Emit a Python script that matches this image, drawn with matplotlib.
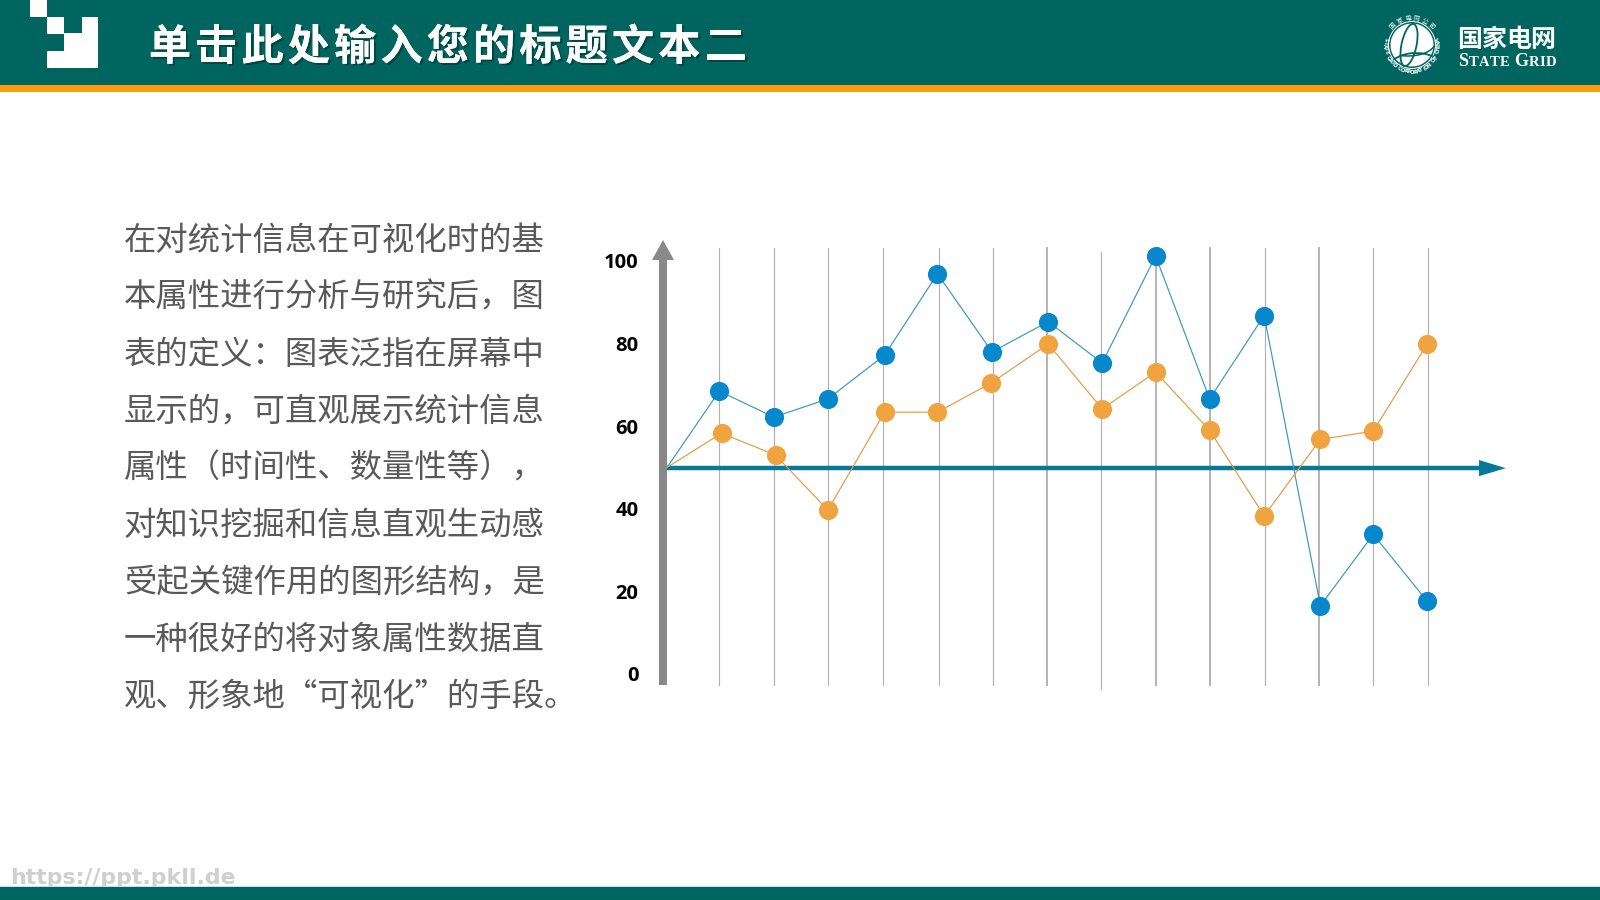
import numpy as np
import matplotlib
matplotlib.use('Agg')
import matplotlib.pyplot as plt
import matplotlib.patheffects as pe
from matplotlib.patches import Rectangle, Polygon, Circle, Ellipse, Arc

plt.rcParams['font.family'] = ['Noto Sans CJK SC', 'DejaVu Sans']

# chart data
y_ticks = [0, 20, 40, 60, 80, 100]
grid_x = [1.0, 2.01, 3.0, 4.01, 5.02, 6.01, 7.01, 8.0, 9.0, 10.0, 11.0, 12.0, 12.99, 14.0]
grid_w = [1.2, 1.2, 1.2, 1.2, 1.2, 1.2, 1.9, 1.2, 1.9, 1.9, 1.2, 1.9, 1.2, 1.2]
blue_x = [0.04, 1.0, 2.0, 2.99, 4.03, 5.0, 6.0, 7.03, 8.02, 9.0, 9.99, 10.99, 12.02, 12.99, 13.98]
blue_y = [50, 68.5, 62.2, 66.6, 77.2, 96.9, 78, 85.3, 75.3, 101.2, 66.6, 86.8, 16.5, 33.8, 17.6]
orange_x = [0.04, 1.04, 2.03, 2.99, 4.03, 5.0, 5.99, 7.03, 8.02, 9.0, 9.99, 10.99, 12.02, 12.99, 13.98]
orange_y = [50, 58.3, 53, 39.7, 63.4, 63.4, 70.5, 79.9, 64.2, 73.1, 59, 38.3, 56.8, 58.8, 79.9]

title = '单击此处输入您的标题文本二'
body_lines = [
    '在对统计信息在可视化时的基',
    '本属性进行分析与研究后，图',
    '表的定义：图表泛指在屏幕中',
    '显示的，可直观展示统计信息',
    '属性（时间性、数量性等），',
    '对知识挖掘和信息直观生动感',
    '受起关键作用的图形结构，是',
    '一种很好的将对象属性数据直',
    '观、形象地“可视化”的手段。',
]

TEAL = '#00645F'
W, H = 1600, 900
fig = plt.figure(figsize=(16, 9), dpi=100, facecolor='white')

# page layer, in pixels
bg = fig.add_axes([0, 0, 1, 1])
bg.set_xlim(0, W)
bg.set_ylim(H, 0)
bg.axis('off')

bg.add_patch(Rectangle((0, 0), W, 85, fc=TEAL, ec='none'))
bg.add_patch(Rectangle((0, 85), W, 7, fc='#FF9B0E', ec='none'))

# corner block
for x, y, w, h in [(30, 0, 17, 17), (47, 17, 17, 17), (82, 17, 16, 17),
                   (64, 33, 34, 18), (47, 51, 51, 17)]:
    bg.add_patch(Rectangle((x, y), w, h, fc='white', ec='none'))

# header title, spaced by hand
shadow = [pe.withSimplePatchShadow(offset=(1.5, -1.5), shadow_rgbFace='#003330', alpha=0.6), pe.Normal()]
for i, ch in enumerate(title):
    bg.text(170 + i * 46.3, 48, ch, color='white', fontsize=30.5, fontweight='bold',
            ha='center', va='center', path_effects=shadow)

# logo globe
cx, cy = 1412, 45
bg.add_patch(Circle((cx, cy), 21.5, fc='white', ec='none'))
bg.add_patch(Circle((cx, cy), 23.5, fc='none', ec='white', lw=0.7))
bg.add_patch(Ellipse((cx - 3, cy), 15, 43, angle=12, fc='none', ec=TEAL, lw=1.3))
bg.add_patch(Arc((cx + 4, cy + 28), 60, 40, theta1=190, theta2=330, ec=TEAL, lw=1.3))
bg.add_patch(Arc((cx - 4, cy - 4), 56, 30, theta1=10, theta2=120, ec=TEAL, lw=1.1))

ring = 'STATE GRID CORPORATION OF CHINA'
for ch, a in zip(ring, np.linspace(192, -12, len(ring))):
    t = np.radians(a)
    bg.text(cx + 27 * np.cos(t), cy + 27 * np.sin(t), ch, color='white', fontsize=4,
            fontweight='bold', family='DejaVu Sans', ha='center', va='center', rotation=90 - a)
for ch, a in zip('国家电网公司', np.linspace(-135, -45, 6)):
    t = np.radians(a)
    bg.text(cx + 27 * np.cos(t), cy + 27 * np.sin(t), ch, color='white', fontsize=4.6,
            ha='center', va='center', rotation=-a - 90)

for i, ch in enumerate('国家电网'):
    bg.text(1470 + i * 24.2, 40, ch, color='white', fontsize=18, fontweight='bold',
            ha='center', va='center')

# small caps wordmark
x = 1458
fig.canvas.draw()
rend = fig.canvas.get_renderer()
for word in ['STATE', 'GRID']:
    for i, ch in enumerate(word):
        t = bg.text(x, 66, ch, color='white', family='Liberation Serif', fontweight='bold',
                    fontsize=13 if i == 0 else 10.5, ha='left', va='baseline')
        x += t.get_window_extent(rend).width + 0.4
    x += 4

# body paragraph
for i, line in enumerate(body_lines):
    bg.text(124, 241 + i * 57, line, color='#595959', fontsize=23.3, ha='left', va='center')

# address strip at the foot, partly under the bar
bg.text(10, 878, 'https://ppt.pkll.de', color='#CFCFCF', fontsize=15.8, fontweight='bold',
        family='DejaVu Sans', ha='left', va='center', zorder=1)
bg.add_patch(Rectangle((0, 886), W, 1, fc='#BFE8E2', ec='none', zorder=2))
bg.add_patch(Rectangle((0, 887), W, 13, fc=TEAL, ec='none', zorder=2))

# chart layer: 54.54 px per x step, 4.13 px per y unit
left, right = 664.8, 1537.4
top, bottom = 240.35, 694.65
ax = fig.add_axes([left / W, 1 - bottom / H, (right - left) / W, (bottom - top) / H])
ax.set_xlim(0, 16)
ax.set_ylim(-5, 105)
ax.patch.set_alpha(0)
for s in ax.spines.values():
    s.set_visible(False)
ax.set_xticks([])
ax.set_yticks(y_ticks)
ax.tick_params(axis='y', length=0, pad=19)
for lab in ax.get_yticklabels():
    lab.set_fontfamily('Open Sans')
    lab.set_fontweight('bold')
    lab.set_fontsize(14.5)
    lab.set_color('#000000')

for i, (gx, gw) in enumerate(zip(grid_x, grid_w)):
    lo, hi = (-3.6, 102.2) if i == 7 else (-2.7, 103.1)
    ax.plot([gx, gx], [lo, hi], color='#B2B2B2', lw=gw * 0.72, zorder=1)

# value axis
ax.plot([0.04, 14.95], [49.85, 49.85], color='#05789B', lw=3.2, solid_capstyle='butt', zorder=2)
ax.add_patch(Polygon([[14.93, 51.8], [15.42, 49.85], [14.93, 47.9]], closed=True, fc='#05789B', ec='none', zorder=2))

ax.plot(blue_x, blue_y, color='#3A97BD', lw=0.85, zorder=3)
ax.plot(blue_x[1:], blue_y[1:], 'o', color='#0787CC', ms=13.8, mew=0, zorder=4)
ax.plot(orange_x, orange_y, color='#E49A42', lw=0.85, zorder=5)
ax.plot(orange_x[1:], orange_y[1:], 'o', color='#F0A33F', ms=13.8, mew=0, zorder=6)

# grey upright arrow beside the tick labels
bg.add_patch(Polygon([(659, 685), (659, 260), (652, 260), (663, 240), (674, 260), (667, 260), (667, 685)],
                     closed=True, fc='#898989', ec='none', zorder=3))

fig.savefig('out.png', dpi=100)
